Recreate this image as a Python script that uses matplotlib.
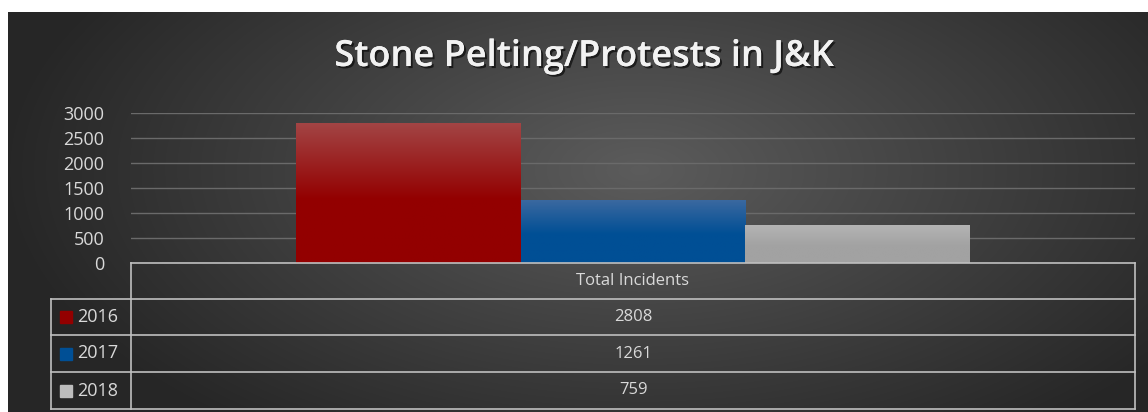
import matplotlib.pyplot as plt
import matplotlib.patheffects as pe
import numpy as np

# data
years = ['2016', '2017', '2018']
incidents = [2808, 1261, 759]
category = 'Total Incidents'
colors_top = ['#a34545', '#3c69a0', '#b4b4b4']
colors_bot = ['#930000', '#004f95', '#a2a2a2']
yticks = [0, 500, 1000, 1500, 2000, 2500, 3000]

W, H, dpi = 1148, 412, 100
txt = '#d9d9d9'
line = '#bfbfbf'
font = 'Open Sans'

fig = plt.figure(figsize=(W / dpi, H / dpi), dpi=dpi)
fig.patch.set_facecolor('white')

# background with radial gradient, in pixel coordinates
bg = fig.add_axes([0, 0, 1, 1], zorder=0)
bg.set_xlim(0, W)
bg.set_ylim(H, 0)
bg.axis('off')
gx, gy = np.meshgrid(np.linspace(8, W, 400), np.linspace(12, H, 160))
r = np.sqrt(((gx - 640) / 640.0) ** 2 + ((gy - 170) / 330.0) ** 2)
r = np.clip(r, 0, 1)
grad = 0.36 - 0.21 * r
bg.imshow(np.dstack([grad, grad, grad]), extent=[8, W, H, 12], aspect='auto', interpolation='bilinear')

# title
bg.text(584, 57, 'Stone Pelting/Protests in J&K', ha='center', va='center', color='#f2f2f2',
        fontsize=26, fontweight='semibold', family=font,
        path_effects=[pe.withSimplePatchShadow(offset=(1.5, -1.5), shadow_rgbFace='black', alpha=0.6), pe.Normal()])

# main bar axes
ax = fig.add_axes([131 / W, (H - 263) / H, 1004 / W, 150 / H], zorder=2)
ax.set_facecolor('none')
bw = 0.224
offsets = [-bw, 0, bw]
for i in range(len(years)):
    bars = ax.bar(offsets[i], incidents[i], width=bw, color=colors_bot[i], zorder=3)
    b = bars[0]
    c1 = np.array(plt.matplotlib.colors.to_rgb(colors_top[i]))
    c2 = np.array(plt.matplotlib.colors.to_rgb(colors_bot[i]))
    t = np.clip(np.linspace(0, 1, 100) / 0.55, 0, 1)[:, None]
    img = (c1 * (1 - t) + c2 * t)[:, None, :]
    im = ax.imshow(img, extent=[offsets[i] - bw / 2, offsets[i] + bw / 2, 0, incidents[i]],
                   aspect='auto', zorder=4, interpolation='bilinear', origin='upper')
    im.set_clip_path(b)
ax.set_xlim(-0.5, 0.5)
ax.set_ylim(0, 3000)
ax.set_yticks(yticks)
ax.set_yticklabels([str(v) for v in yticks], color=txt, fontsize=13, family=font)
ax.tick_params(axis='y', length=0, pad=19)
ax.set_xticks([])
ax.grid(axis='y', color='#6a6a6a', lw=1, zorder=0)
for s in ax.spines.values():
    s.set_visible(False)

# data table drawn below the axes
tb = fig.add_axes([0, 0, 1, 1], zorder=3)
tb.set_xlim(0, W)
tb.set_ylim(H, 0)
tb.axis('off')
rows_y = [263, 299, 335, 372, 409]
x0, x1, x2 = 51, 131, 1135
tb.plot([x1, x2], [rows_y[0], rows_y[0]], color=line, lw=1.2)
for yy in rows_y[1:]:
    tb.plot([x0, x2], [yy, yy], color=line, lw=1.2)
tb.plot([x1, x1], [rows_y[0], rows_y[-1]], color=line, lw=1.2)
tb.plot([x2, x2], [rows_y[0], rows_y[-1]], color=line, lw=1.2)
tb.plot([x0, x0], [rows_y[1], rows_y[-1]], color=line, lw=1.2)
xc = (x1 + x2) / 2
tb.text(xc, (rows_y[0] + rows_y[1]) / 2, category, ha='center', va='center', color=txt, fontsize=12, family=font)
for i in range(len(years)):
    ym = (rows_y[i + 1] + rows_y[i + 2]) / 2
    tb.add_patch(plt.Rectangle((60, ym - 6), 12, 12, color=colors_bot[i] if i < 2 else '#bdbdbd'))
    tb.text(77, ym, years[i], ha='left', va='center', color=txt, fontsize=13, family=font)
    tb.text(xc, ym, str(incidents[i]), ha='center', va='center', color=txt, fontsize=12, family=font)

fig.savefig('out.png', dpi=dpi)
